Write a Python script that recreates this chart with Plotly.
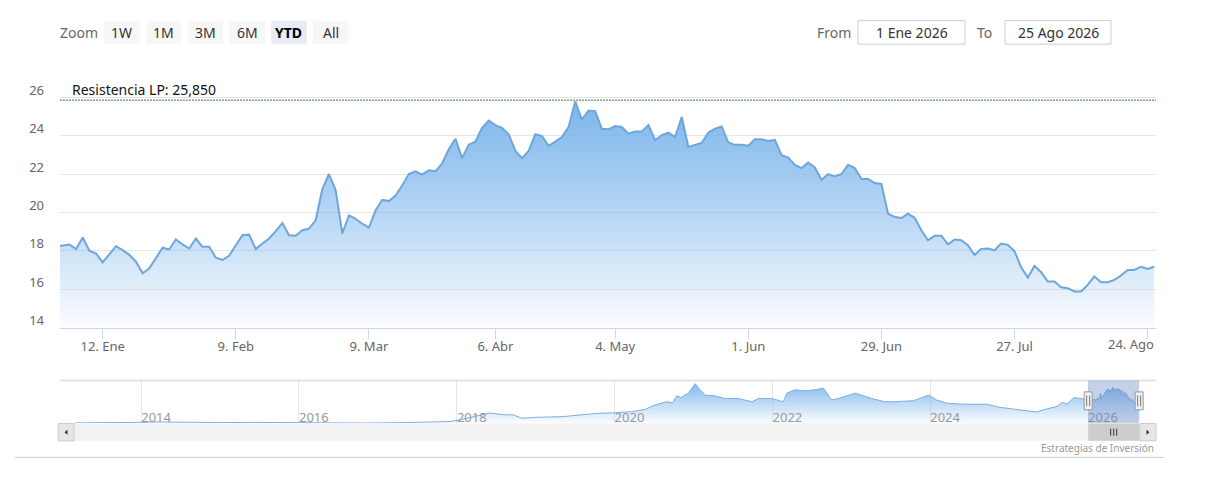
import pandas as pd
import plotly.graph_objects as go

W, H = 1207, 490
PAD = 8  # default page margin around the plot div

# daily closes, 31 Dic 2025 .. 25 Ago 2026 (Madrid calendar, weekends + holidays skipped)
holidays = ["2026-01-01", "2026-04-03", "2026-04-06", "2026-05-01"]
prices = [
    18.21, 18.27, 18.33, 18.09, 18.69, 18.00, 17.86, 17.40, 17.83, 18.24,
    18.03, 17.79, 17.43, 16.83, 17.09, 17.60, 18.16, 18.07, 18.59, 18.33,
    18.12, 18.64, 18.21, 18.21, 17.64, 17.52, 17.74, 18.29, 18.81, 18.84,
    18.09, 18.38, 18.64, 19.02, 19.45, 18.81, 18.78, 19.07, 19.16, 19.59,
    21.22, 22.00,
    21.17, 18.90, 19.84, 19.67, 19.41, 19.21, 20.10, 20.66, 20.59, 20.88,
    21.40, 22.00, 22.14, 21.97, 22.20, 22.14, 22.55, 23.29, 23.84, 22.83,
    23.52, 23.69, 24.41, 24.79, 24.55, 24.41, 24.07, 23.21, 22.83, 23.21,
    24.07, 23.98, 23.47, 23.69, 23.93, 24.45, 25.79, 24.84, 25.31, 25.28,
    24.36,
    24.33, 24.50, 24.45, 24.10, 24.21, 24.21, 24.55, 23.76, 24.03, 24.16,
    23.93, 24.97, 23.41, 23.52, 23.62, 24.16, 24.36, 24.48, 23.64, 23.52,
    23.52, 23.47, 23.81, 23.81, 23.72, 23.78, 22.98, 22.86, 22.47, 22.31,
    22.60, 22.34, 21.69, 22.00, 21.88, 22.00, 22.48, 22.31, 21.74, 21.74,
    21.53,
    21.48, 19.93, 19.76, 19.71, 19.93, 19.72, 19.07, 18.55, 18.78, 18.78,
    18.34, 18.59, 18.55, 18.29, 17.78, 18.10, 18.12, 18.03, 18.38, 18.31,
    17.98, 17.14, 16.60, 17.21, 16.88, 16.40, 16.40, 16.10, 16.05, 15.88,
    15.88, 16.22, 16.66, 16.36, 16.36, 16.48, 16.71, 17.00, 17.00, 17.17,
    17.05, 17.17,
]
resistance = 25.85
resistance_label = "Resistencia LP: 25,850"

y_ticks = [14, 16, 18, 20, 22, 24, 26, 28]
y_labels = ["14", "16", "18", "20", "22", "24", "26", ""]

tick_dates = ["2026-01-12", "2026-02-09", "2026-03-09", "2026-04-06", "2026-05-04",
              "2026-06-01", "2026-06-29", "2026-07-27", "2026-08-24"]
tick_labels = ["12. Ene", "9. Feb", "9. Mar", "6. Abr", "4. May",
               "1. Jun", "29. Jun", "27. Jul", "24. Ago"]

# long history for the navigator
nav_dates = [
    "2013-03-01", "2013-07-15", "2013-12-20", "2014-03-01", "2014-08-01", "2015-01-05",
    "2015-06-10", "2015-11-10", "2016-04-15", "2016-10-25", "2017-03-25", "2017-08-30",
    "2017-12-01", "2018-01-02", "2018-03-05", "2018-04-20", "2018-06-01", "2018-08-01",
    "2018-09-20", "2018-10-30", "2019-01-08", "2019-05-08", "2019-07-25", "2019-10-12",
    "2020-01-02", "2020-03-20", "2020-05-22", "2020-07-05", "2020-08-28", "2020-09-25",
    "2020-10-15", "2020-11-05", "2020-12-08", "2021-01-08", "2021-02-01", "2021-02-25",
    "2021-04-08", "2021-05-25", "2021-07-25", "2021-09-28", "2021-10-28", "2021-12-28",
    "2022-02-20", "2022-03-08", "2022-04-15", "2022-06-02", "2022-07-15", "2022-08-25",
    "2022-10-01", "2022-11-02", "2023-01-18", "2023-04-05", "2023-06-05", "2023-07-15",
    "2023-10-15", "2023-12-25", "2024-01-30", "2024-03-18", "2024-06-03", "2024-09-20",
    "2024-11-20", "2025-02-20", "2025-05-08", "2025-06-10", "2025-08-10", "2025-09-02",
    "2025-09-25", "2025-10-28", "2025-11-25", "2025-12-15",
]
nav_values = [
    4.2, 4.2, 4.5, 4.8, 4.5, 4.4,
    4.5, 4.3, 4.0, 4.1, 4.3, 4.6,
    5.0, 5.7, 7.7, 9.0, 10.2, 9.2,
    9.0, 7.0, 7.6, 8.0, 8.8, 10.0,
    10.3, 11.0, 12.4, 15.0, 17.0, 16.4,
    20.6, 19.6, 22.4, 27.9, 24.0, 21.0,
    20.6, 19.0, 19.0, 17.0, 19.0, 19.0,
    17.0, 22.2, 24.2, 23.6, 24.2, 25.2,
    18.1, 19.0, 22.2, 19.0, 17.0, 17.0,
    17.6, 21.0, 18.1, 16.1, 15.5, 15.5,
    13.6, 12.2, 10.8, 12.2, 14.2, 16.6,
    15.6, 19.5, 19.0, 18.2,
]
nav_years = [2014, 2016, 2018, 2020, 2022, 2024, 2026]

months_es = ["Ene", "Feb", "Mar", "Abr", "May", "Jun", "Jul", "Ago", "Sep", "Oct", "Nov", "Dic"]
range_buttons = ["1W", "1M", "3M", "6M", "YTD", "All"]
active_button = "YTD"
ytd_start = pd.Timestamp("2026-01-01")

FONT = "Noto Sans"

trading = pd.bdate_range("2026-01-02", "2026-08-25").difference(pd.to_datetime(holidays))
dates = [pd.Timestamp("2025-12-31")] + list(trading)
if len(dates) != len(prices):
    print("length mismatch", len(dates), len(prices))
tickvals = [next(d for d in dates if d >= pd.Timestamp(t)) for t in tick_dates]

FW, FH = W - 2 * PAD, H - 2 * PAD


def px(x):
    # page pixel -> paper fraction of the (margin-inset) plot div
    return (x - PAD) / FW


def py(y):
    return 1 - (y - PAD) / FH


def fmt(d):
    return f"{d.day} {months_es[d.month - 1]} {d.year}"


fig = go.Figure()
fig.add_trace(go.Scatter(
    x=dates, y=prices, mode="lines", line=dict(color="#6ea6dc", width=2),
    fill="tozeroy",
    fillgradient=dict(type="vertical", start=14, stop=max(prices),
                      colorscale=[[0, "rgba(124,181,236,0.02)"],
                                  [0.5, "rgba(124,181,236,0.55)"],
                                  [1, "rgba(124,181,236,1)"]]),
    hoverinfo="x+y", showlegend=False, xaxis="x", yaxis="y"))

nav_x = [pd.Timestamp(d) for d in nav_dates] + dates
nav_y = nav_values + prices
fig.add_trace(go.Scatter(
    x=nav_x, y=nav_y, mode="lines", line=dict(color="#7aaee2", width=1),
    fill="tozeroy",
    fillgradient=dict(type="vertical", start=4, stop=28,
                      colorscale=[[0, "rgba(124,181,236,0.02)"],
                                  [1, "rgba(124,181,236,0.95)"]]),
    hoverinfo="skip", showlegend=False, xaxis="x2", yaxis="y2"))

shapes = []
annotations = []


def box(x0, y0, x1, y1, fill, line=None, width=1):
    shapes.append(dict(type="rect", xref="paper", yref="paper",
                       x0=px(x0), x1=px(x1), y0=py(y1), y1=py(y0),
                       fillcolor=fill, line=dict(color=line or fill, width=width if line else 0)))


def text(x, y, s, size=14, color="#333", anchor="center"):
    annotations.append(dict(xref="paper", yref="paper", x=px(x), y=py(y), text=s,
                            showarrow=False, xanchor=anchor, yanchor="middle",
                            font=dict(family=FONT, size=size, color=color)))


# range selector row
text(58, 32.5, "Zoom", color="#666", anchor="left")
for k, b in enumerate(range_buttons):
    x0 = 104 + 41.8 * k
    on = b == active_button
    box(x0, 20.7, x0 + 35.5, 44.3, "#e6ebf5" if on else "#f7f7f7")
    text(x0 + 17.75, 32.5, f"<b>{b}</b>" if on else b, color="#000" if on else "#333")

text(815, 32.5, "From", color="#666", anchor="left")
box(858, 20.7, 965, 44.3, "#ffffff", "#cccccc")
text(911.5, 32.5, fmt(ytd_start))
text(975, 32.5, "To", color="#666", anchor="left")
box(1005, 20.7, 1111, 44.3, "#ffffff", "#cccccc")
text(1058, 32.5, fmt(dates[-1]))

# resistance level
shapes.append(dict(type="line", xref="x domain", yref="y", x0=0, x1=1, y0=resistance, y1=resistance,
                   line=dict(color="#3c7d3c", width=1, dash="2px,1px")))
annotations.append(dict(xref="x domain", yref="y", x=0, y=resistance, xshift=10, yshift=-1,
                        text=resistance_label, showarrow=False, xanchor="left", yanchor="bottom",
                        font=dict(family=FONT, size=14, color="#111")))

# last date label is kept inside the chart edge (as the original does)
axis_text = tick_labels[:-1] + [""]
annotations.append(dict(xref="x domain", yref="paper", x=1, y=py(345.5), text=tick_labels[-1],
                        showarrow=False, xanchor="right", yanchor="middle",
                        font=dict(family=FONT, size=13, color="#666")))

# navigator chrome
nav_top, nav_bot = 382, 425
shapes.append(dict(type="line", xref="paper", yref="paper", x0=px(60), x1=px(1156),
                   y0=py(nav_top), y1=py(nav_top), line=dict(color="#e3e3e3", width=2)))
shapes.append(dict(type="rect", xref="x2", yref="paper", x0=ytd_start, x1=dates[-1],
                   y0=py(nav_bot), y1=py(nav_top), fillcolor="rgba(102,133,194,0.38)",
                   line=dict(width=0)))
for edge in (ytd_start, dates[-1]):
    shapes.append(dict(type="rect", xref="x2", yref="paper", xsizemode="pixel", xanchor=edge,
                       x0=-4, x1=4, y0=py(411.5), y1=py(393.5),
                       fillcolor="#f2f2f2", line=dict(color="#999999", width=1)))
    for dx in (-1.5, 1.5):
        shapes.append(dict(type="line", xref="x2", yref="paper", xsizemode="pixel", xanchor=edge,
                           x0=dx, x1=dx, y0=py(408), y1=py(397),
                           line=dict(color="#777777", width=1)))

# scrollbar
box(58, 425.3, 1156, 442.7, "#f2f2f2")
box(58, 425.3, 74, 442.7, "#e6e6e6", "#cccccc")
box(1140, 425.3, 1156, 442.7, "#e6e6e6", "#cccccc")
shapes.append(dict(type="path", xref="paper", yref="paper",
                   path=f"M {px(64.5)},{py(434)} L {px(67.5)},{py(431.5)} L {px(67.5)},{py(436.5)} Z",
                   fillcolor="#333333", line=dict(width=0)))
shapes.append(dict(type="path", xref="paper", yref="paper",
                   path=f"M {px(1149.5)},{py(434)} L {px(1146.5)},{py(431.5)} L {px(1146.5)},{py(436.5)} Z",
                   fillcolor="#333333", line=dict(width=0)))
shapes.append(dict(type="rect", xref="x2", yref="paper", x0=ytd_start, x1=dates[-1],
                   y0=py(442.7), y1=py(425.3), fillcolor="#cdcdcd", line=dict(width=0)))
mid = ytd_start + (dates[-1] - ytd_start) / 2
for dx in (-3, 0, 3):
    shapes.append(dict(type="line", xref="x2", yref="paper", xsizemode="pixel", xanchor=mid,
                       x0=dx, x1=dx, y0=py(437.5), y1=py(430.5),
                       line=dict(color="#333333", width=1)))

text(1156, 450, "Estrategias de Inversión", size=10, color="#999", anchor="right")
shapes.append(dict(type="line", xref="paper", yref="paper", x0=px(15), x1=px(1164),
                   y0=py(459.3), y1=py(459.3), line=dict(color="#cccccc", width=1)))

fig.update_layout(
    autosize=True, margin=dict(l=0, r=0, t=0, b=0),
    paper_bgcolor="white", plot_bgcolor="white",
    font=dict(family=FONT, size=13, color="#666"),
    shapes=shapes, annotations=annotations,
    xaxis=dict(domain=[px(60), px(1156)], anchor="y", type="date",
               range=["2025-12-31 14:04", "2026-08-25 06:15"],
               rangebreaks=[dict(bounds=["sat", "mon"]), dict(values=holidays)],
               tickvals=tickvals, ticktext=axis_text,
               ticks="outside", ticklen=10, tickcolor="#ccd6eb",
               ticklabelstandoff=-3,
               showline=True, linecolor="#ccd6eb", showgrid=False, zeroline=False,
               tickfont=dict(size=13, color="#666")),
    yaxis=dict(domain=[py(328.9), py(59.1)], anchor="x", range=[14, 28],
               tickvals=y_ticks, ticktext=y_labels,
               gridcolor="#e6e6e6", zeroline=False, showline=False,
               ticklabelshift=-7, ticklabelstandoff=15,
               tickfont=dict(size=13, color="#666")),
    xaxis2=dict(domain=[px(60), px(1156)], anchor="y2", type="date",
                range=["2012-12-21", "2026-11-11"],
                tickvals=[f"{y}-01-01" for y in nav_years], ticktext=[str(y) for y in nav_years],
                ticklabelposition="inside right", ticklabelstandoff=-7, ticks="",
                showgrid=True, gridcolor="#e6e6e6", zeroline=False, showline=False,
                tickfont=dict(size=13, color="#999")),
    yaxis2=dict(domain=[py(nav_bot), py(nav_top)], anchor="x2", range=[4.0, 29.9],
                showgrid=False, showticklabels=False, zeroline=False),
)

# let the div fill the window inside the page margin so nothing overflows
fig.write_html("out.html", config={"displayModeBar": False},
               default_width="100%", default_height="calc(100vh - 16px)")
